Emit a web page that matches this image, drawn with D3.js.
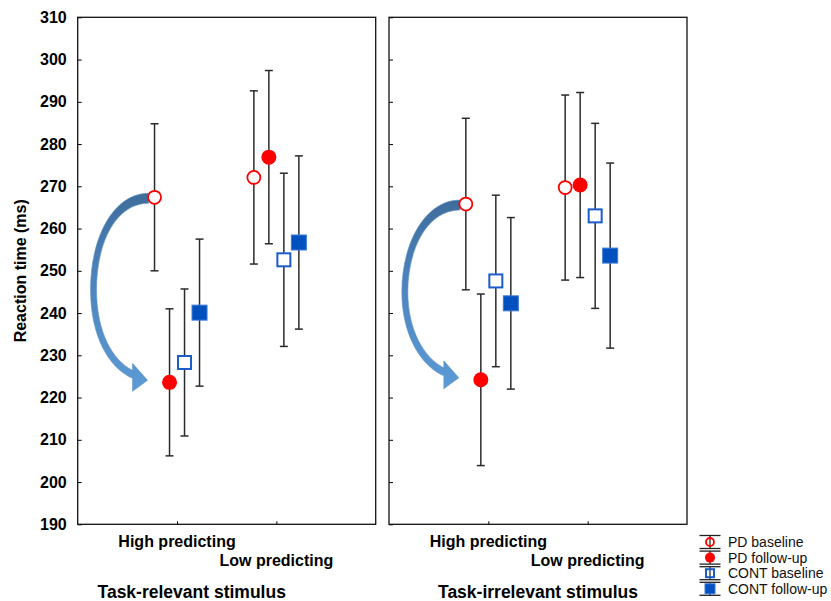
<!DOCTYPE html>
<html>
<head>
<meta charset="utf-8">
<script src="https://cdn.jsdelivr.net/npm/d3@7/dist/d3.min.js"></script>
<style>
  body { margin: 0; background: #fff; }
  svg { display: block; font-family: 'Liberation Sans', Arial, sans-serif; }
  .bold { font-weight: bold; }
</style>
</head>
<body>
<script>

// chart data
const panels = ['Task-relevant stimulus', 'Task-irrelevant stimulus'];
const categories = ['High predicting', 'Low predicting'];
const series = ['PD baseline', 'PD follow-up', 'CONT baseline', 'CONT follow-up'];

// [panel][category]
const pdBaseline   = [[267.4, 272.1], [265.8, 269.7]];
const pdFollowUp   = [[223.6, 276.9], [224.2, 270.3]];
const contBaseline = [[228.3, 252.6], [247.6, 263.0]];
const contFollowUp = [[240.1, 256.7], [242.3, 253.6]];
// half-width of the error bars, same for every group in a cell
const errors       = [[17.4, 20.5], [20.3, 21.9]];

const yTicks = d3.range(190, 311, 10);

const values = [pdBaseline, pdFollowUp, contBaseline, contFollowUp];

const WIDTH  = 831,
      HEIGHT = 601;

const PLOT = {
  top: 17.3,
  bottom: 524.3,
  lefts: [77.7, 389],
  width: 298
};

const RED = '#ff0000',
      BLUE = '#1a5cc8',
      BLUE_FILL = '#0050c0',
      BAR = '#2b2b2b';

const svg = d3.select('body').append('svg')
  .attr('width', WIDTH)
  .attr('height', HEIGHT);

const defs = svg.append('defs');
const grad = defs.append('linearGradient')
  .attr('id', 'arrowFill')
  .attr('x1', 0).attr('y1', 0)
  .attr('x2', 0).attr('y2', 1);
grad.append('stop').attr('offset', '0%').attr('stop-color', '#3f6d9c');
grad.append('stop').attr('offset', '45%').attr('stop-color', '#4d84bd');
grad.append('stop').attr('offset', '100%').attr('stop-color', '#5b9bd5');

const y = d3.scaleLinear()
  .domain([190, 310])
  .range([PLOT.bottom, PLOT.top]);

const offset = d3.scalePoint()
  .domain(series)
  .range([-22.5, 22.5]);

// marker drawing, shared by the plot and the legend
const drawMarker = (g, s, size) => {
  const r = size / 2;
  if (s === 'PD baseline') {
    g.append('circle').attr('r', r - 1)
      .attr('fill', 'none').attr('stroke', RED).attr('stroke-width', 1.8);
  } else if (s === 'PD follow-up') {
    g.append('circle').attr('r', r)
      .attr('fill', RED);
  } else if (s === 'CONT baseline') {
    g.append('rect').attr('x', -r + 1).attr('y', -r + 1)
      .attr('width', size - 2).attr('height', size - 2)
      .attr('fill', 'none').attr('stroke', BLUE).attr('stroke-width', 2);
  } else {
    g.append('rect').attr('x', -r).attr('y', -r)
      .attr('width', size).attr('height', size)
      .attr('fill', BLUE_FILL).attr('stroke', '#3d7ad6').attr('stroke-width', 1);
  }
};

// curved arrow from the baseline point down to the follow-up point
const arrowPath = (xB, yB, yF) => {
  const ym = (yB + yF) / 2;
  const p = d3.path();
  p.moveTo(xB - 6, yB - 4);
  p.bezierCurveTo(xB - 40, yB - 4, xB - 64, yB + 38, xB - 64, ym);
  p.bezierCurveTo(xB - 64, yF - 45, xB - 45, yF - 14, xB - 22, yF - 4);
  p.lineTo(xB - 22, yF + 9);
  p.lineTo(xB - 7, yF - 2);
  p.lineTo(xB - 22, yF - 19);
  p.lineTo(xB - 22, yF - 12);
  p.bezierCurveTo(xB - 42, yF - 22, xB - 58, yF - 50, xB - 58, ym);
  p.bezierCurveTo(xB - 58, yB + 44, xB - 38, yB + 6, xB - 6, yB + 6);
  p.closePath();
  return p.toString();
};

panels.forEach((title, pi) => {

  const left = PLOT.lefts[pi];

  const x = d3.scaleLinear()
    .domain([0, categories.length + 1])
    .range([left, left + PLOT.width]);

  const g = svg.append('g');

  // y axis with inward ticks
  g.append('g')
    .attr('transform', `translate(${left}, 0)`)
    .call(d3.axisLeft(y)
      .tickValues(yTicks)
      .tickSize(-4)
      .tickPadding(11)
      .tickFormat(pi === 0 ? d3.format('d') : ''))
    .call((a) => a.select('.domain').remove())
    .call((a) => a.selectAll('line').attr('stroke', '#000'))
    .call((a) => a.selectAll('text')
      .attr('class', 'bold')
      .style('font-size', '16px')
      .attr('fill', '#000'));

  // x axis ticks
  g.append('g')
    .attr('transform', `translate(0, ${PLOT.bottom})`)
    .call(d3.axisBottom(x)
      .tickValues(categories.map((c, i) => i + 1))
      .tickSize(-3)
      .tickFormat(''))
    .call((a) => a.select('.domain').remove())
    .call((a) => a.selectAll('line').attr('stroke', '#000'));

  // frame
  g.append('rect')
    .attr('x', left)
    .attr('y', PLOT.top)
    .attr('width', PLOT.width)
    .attr('height', PLOT.bottom - PLOT.top)
    .attr('fill', 'none')
    .attr('stroke', '#111')
    .attr('stroke-width', 1.3);

  // staggered category labels
  g.selectAll('.cat')
    .data(categories)
    .enter().append('text')
      .attr('class', 'cat bold')
      .attr('x', (d, i) => x(i + 1))
      .attr('y', (d, i) => 547 + i * 18.5)
      .attr('text-anchor', 'middle')
      .style('font-size', '16px')
      .text((d) => d);

  g.append('text')
    .attr('class', 'bold')
    .attr('x', pi === 0 ? (left - 70 + left + PLOT.width) / 2 : left + PLOT.width / 2)
    .attr('y', 597.5)
    .attr('text-anchor', 'middle')
    .style('font-size', '17.5px')
    .text(title);

  // arrow behind the markers
  g.append('path')
    .attr('d', arrowPath(
      x(1) + offset('PD baseline'),
      y(pdBaseline[pi][0]),
      y(pdFollowUp[pi][0])))
    .attr('fill', 'url(#arrowFill)')
    .attr('stroke', '#5f93c8')
    .attr('stroke-width', 0.6);

  const points = [];
  series.forEach((s, si) => {
    categories.forEach((c, ci) => {
      points.push({
        series: s,
        cx: x(ci + 1) + offset(s),
        mean: values[si][pi][ci],
        err: errors[pi][ci]
      });
    });
  });

  const bars = g.selectAll('.bar')
    .data(points)
    .enter().append('g')
      .attr('class', 'bar')
      .attr('stroke', BAR)
      .attr('stroke-width', 1.5);

  bars.append('line')
    .attr('x1', (d) => d.cx).attr('x2', (d) => d.cx)
    .attr('y1', (d) => y(d.mean + d.err))
    .attr('y2', (d) => y(d.mean - d.err));

  bars.append('line')
    .attr('x1', (d) => d.cx - 4).attr('x2', (d) => d.cx + 4)
    .attr('y1', (d) => y(d.mean + d.err))
    .attr('y2', (d) => y(d.mean + d.err));

  bars.append('line')
    .attr('x1', (d) => d.cx - 4).attr('x2', (d) => d.cx + 4)
    .attr('y1', (d) => y(d.mean - d.err))
    .attr('y2', (d) => y(d.mean - d.err));

  points.forEach((d) => {
    const m = g.append('g')
      .attr('transform', `translate(${d.cx}, ${y(d.mean)})`);
    // white backing so the bar does not show through open markers
    if (d.series.endsWith('baseline')) {
      if (d.series.startsWith('PD')) {
        m.append('circle').attr('r', 6).attr('fill', '#fff');
      } else {
        m.append('rect').attr('x', -7).attr('y', -7)
          .attr('width', 14).attr('height', 14).attr('fill', '#fff');
      }
    }
    drawMarker(m, d.series, d.series.startsWith('PD') ? 15 : 15);
  });

});

// y axis title
svg.append('text')
  .attr('class', 'bold')
  .attr('transform', `translate(26, ${(PLOT.top + PLOT.bottom) / 2}) rotate(-90)`)
  .attr('text-anchor', 'middle')
  .style('font-size', '16px')
  .text('Reaction time (ms)');

// legend
const legend = svg.append('g')
  .attr('transform', 'translate(710, 542)');

const item = legend.selectAll('.item')
  .data(series)
  .enter().append('g')
    .attr('class', 'item')
    .attr('transform', (d, i) => `translate(0, ${i * 15.6})`);

item.append('line')
  .attr('x1', 0).attr('x2', 0)
  .attr('y1', -6.5).attr('y2', 6.5)
  .attr('stroke', BAR).attr('stroke-width', 1.3);

[-6.5, 6.5].forEach((dy) => {
  item.append('line')
    .attr('x1', -10.5).attr('x2', 10.5)
    .attr('y1', dy).attr('y2', dy)
    .attr('stroke', '#222').attr('stroke-width', 1.3);
});

item.each(function (d) {
  drawMarker(d3.select(this), d, 10);
});

item.append('text')
  .attr('x', 18)
  .attr('dy', '0.35em')
  .style('font-size', '14px')
  .attr('fill', '#111')
  .text((d) => d);

</script>
</body>
</html>
